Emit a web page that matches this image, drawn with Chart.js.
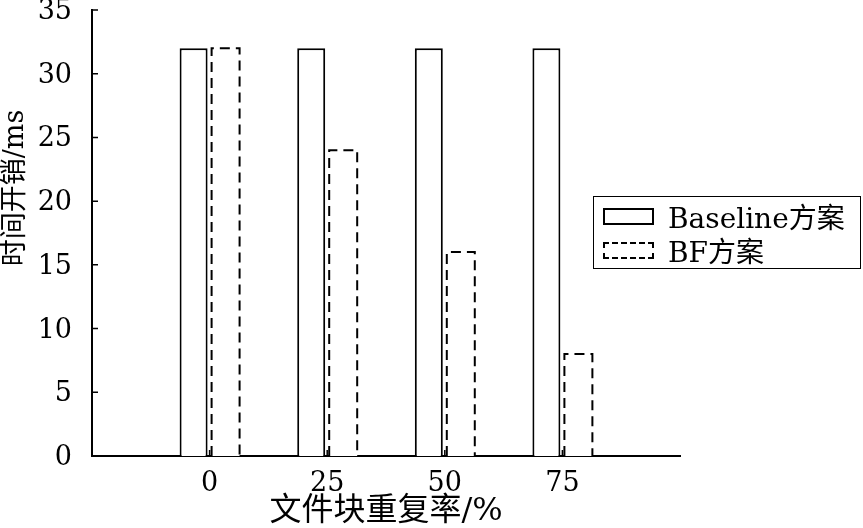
<!DOCTYPE html>
<html>
<head>
<meta charset="utf-8">
<script src="https://cdn.jsdelivr.net/npm/chart.js@4"></script>
<style>
  body { margin: 0; background: #fff; }
  #wrap { position: relative; width: 863px; height: 528px; }
  #legend {
    position: absolute; left: 593px; top: 196px; width: 266px; height: 71px;
    border: 1.5px solid #000; background: #fff;
    font-family: "DejaVu Serif", "Noto Sans CJK SC", serif; font-size: 28px; color: #000;
  }
  .row { position: absolute; left: 0; height: 34px; display: flex; align-items: center; }
  .sw { width: 51px; height: 17px; margin-left: 9px; margin-right: 14px; box-sizing: border-box; }
  .solid { border: 2px solid #000; }
  .dash { border: 2px dashed #000; }
</style>
</head>
<body>
<div id="wrap">
  <canvas id="chart"></canvas>
  <div id="legend">
    <div class="row" style="top:2px"><div class="sw solid"></div><span>Baseline方案</span></div>
    <div class="row" style="top:36px"><div class="sw dash"></div><span>BF方案</span></div>
  </div>
</div>
<script>
const rates = [0, 25, 50, 75];
const baseline = [32, 32, 32, 32];
const bf = [32, 24, 16, 8];
const yTicks = [0, 5, 10, 15, 20, 25, 30, 35];
const yTitle = "时间开销/ms";

const serif = "'DejaVu Serif', 'Noto Sans CJK SC', serif";

// dashed outline for the BF bars, drawn from the bar elements
const dashedBars = {
  id: "dashedBars",
  afterDatasetsDraw(chart) {
    const ctx = chart.ctx;
    const meta = chart.getDatasetMeta(1);
    ctx.save();
    ctx.strokeStyle = "#000";
    ctx.lineWidth = 2;
    ctx.setLineDash([10, 6]);
    meta.data.forEach((el) => {
      const p = el.getProps(["x", "y", "base", "width"], true);
      const l = p.x - p.width / 2, r = p.x + p.width / 2;
      ctx.beginPath();
      ctx.moveTo(l, p.base);
      ctx.lineTo(l, p.y);
      ctx.lineTo(r, p.y);
      ctx.lineTo(r, p.base);
      ctx.stroke();
    });
    ctx.restore();
  },
};

// inward tick marks + y title (sits above the axis centre in the original)
const innerTicks = {
  id: "innerTicks",
  afterDraw(chart) {
    const ctx = chart.ctx;
    const xs = chart.scales.x, ys = chart.scales.y;
    ctx.save();
    ctx.strokeStyle = "#000";
    ctx.lineWidth = 1.5;
    ctx.beginPath();
    yTicks.forEach((v) => {
      const py = ys.getPixelForValue(v);
      ctx.moveTo(xs.left, py);
      ctx.lineTo(xs.left + 6, py);
    });
    rates.forEach((v) => {
      const px = xs.getPixelForValue(v);
      ctx.moveTo(px, ys.bottom);
      ctx.lineTo(px, ys.bottom - 6);
    });
    ctx.stroke();

    ctx.translate(16, 188);
    ctx.rotate(-Math.PI / 2);
    ctx.fillStyle = "#000";
    ctx.font = "27px " + serif;
    ctx.textAlign = "center";
    ctx.textBaseline = "middle";
    ctx.fillText(yTitle, 0, 0);
    ctx.restore();
  },
};

new Chart(document.getElementById("chart"), {
  type: "bar",
  data: {
    datasets: [
      {
        label: "Baseline方案",
        data: rates.map((r, i) => ({ x: r, y: baseline[i] })),
        backgroundColor: "#fff",
        borderColor: "#000",
        borderWidth: 2,
        borderSkipped: "bottom",
        categoryPercentage: 0.544,
        barPercentage: 0.875,
      },
      {
        label: "BF方案",
        data: rates.map((r, i) => ({ x: r, y: bf[i] })),
        backgroundColor: "#fff",
        borderWidth: 0,
        categoryPercentage: 0.544,
        barPercentage: 0.875,
      },
    ],
  },
  options: {
    responsive: true,
    maintainAspectRatio: false,
    animation: false,
    layout: { padding: { top: 10, right: 183, left: 0, bottom: 0 } },
    plugins: { legend: { display: false }, tooltip: { enabled: false } },
    scales: {
      x: {
        type: "linear",
        offset: false,
        min: -25,
        max: 100,
        grid: { display: false, offset: false },
        border: { display: true, color: "#000", width: 2 },
        ticks: {
          stepSize: 25,
          color: "#000",
          padding: 4,
          font: { family: serif, size: 27 },
          callback: (v) => (rates.includes(v) ? String(v) : ""),
        },
        title: {
          display: true,
          text: "文件块重复率/%",
          color: "#000",
          padding: { top: 0, bottom: 0 },
          font: { family: serif, size: 32, lineHeight: 1.0 },
        },
        afterFit(s) { s.height = 72; s.paddingLeft = 0; s.paddingRight = 0; },
      },
      y: {
        min: 0,
        max: 35,
        grid: { display: false },
        border: { display: true, color: "#000", width: 2 },
        ticks: {
          stepSize: 5,
          color: "#000",
          padding: 12,
          labelOffset: 2,
          font: { family: serif, size: 27 },
        },
        title: { display: false },
        afterFit(s) { s.width = 92; s.paddingTop = 0; s.paddingBottom = 0; },
      },
    },
  },
  plugins: [dashedBars, innerTicks],
});
</script>
</body>
</html>
